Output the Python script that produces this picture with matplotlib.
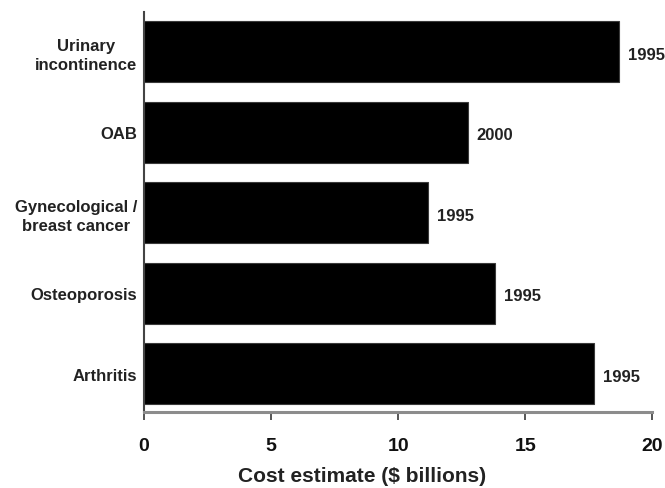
import matplotlib
matplotlib.use("Agg")
import matplotlib.pyplot as plt
from matplotlib import font_manager

# ---- data ----
categories = ["Urinary\nincontinence", "OAB", "Gynecological /\nbreast cancer",
              "Osteoporosis", "Arthritis"]
costs = [18.67, 12.74, 11.19, 13.82, 17.69]
years = ["1995", "2000", "1995", "1995", "1995"]
xticks = [0, 5, 10, 15, 20]
xlabel = "Cost estimate ($ billions)"

# ---- fonts ----
names = {f.name for f in font_manager.fontManager.ttflist}
base = "Liberation Sans" if "Liberation Sans" in names else "DejaVu Sans"
narrow = "Liberation Sans Narrow" if "Liberation Sans Narrow" in names else base
tick_size = 16 if narrow != base else 14
plt.rcParams["font.family"] = [base, "DejaVu Sans"]

fig = plt.figure(figsize=(6.65, 4.89), dpi=100)
ax = fig.add_axes([0.2165, 0.155, 0.7645, 0.818])

ypos = list(range(len(categories)))
ax.barh(ypos, costs, height=0.757, color="black", edgecolor="#3a3a3a", linewidth=0.8)

ax.set_xlim(0, 20)
ax.set_ylim(len(categories) - 1 + 0.48, -0.49)

# year annotations
for y, c, yr in zip(ypos, costs, years):
    ax.annotate(yr, xy=(c, y), xytext=(6.5, -2), textcoords="offset points",
                ha="left", va="center", fontsize=12, fontweight="bold",
                color="#222222", annotation_clip=False)

# y axis labels
ax.set_yticks(ypos)
ax.set_yticklabels(categories, fontsize=12, fontweight="bold", color="#222222",
                   multialignment="center", linespacing=1.35)
ax.tick_params(axis="y", length=0, pad=5)

# x axis
ax.set_xticks(xticks)
ax.set_xticklabels([str(t) for t in xticks], fontsize=tick_size, fontweight="bold",
                   family=[narrow, "DejaVu Sans"], color="#111111")
ax.tick_params(axis="x", direction="out", length=6, width=1.4, color="#555555", pad=12)

ax.set_xlabel(xlabel, fontsize=15, fontweight="bold", color="#222222")
ax.xaxis.set_label_coords(0.428, -0.159)
ax.xaxis.label.set_va("center")

for s in ["top", "right"]:
    ax.spines[s].set_visible(False)
ax.spines["left"].set_color("#444444")
ax.spines["left"].set_linewidth(1.5)
ax.spines["bottom"].set_color("#8c8c8c")
ax.spines["bottom"].set_linewidth(2.2)

fig.savefig("out.png", dpi=100)
